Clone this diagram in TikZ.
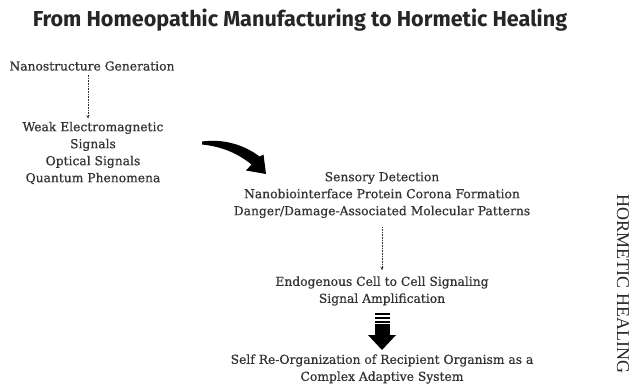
\documentclass[tikz,border=0pt]{standalone}
\usepackage{fontspec}
\setmainfont{DejaVu Serif}
\newfontfamily\bodyfont{DejaVu Serif}[FakeBold=0.6]
\newfontfamily\titlefont{Fira Sans}
\newfontfamily\sidefont{Liberation Serif}
\usetikzlibrary{arrows.meta}
\begin{document}
\begin{tikzpicture}[x=1pt,y=-1pt,
  txt/.style={align=center,inner sep=0pt,font=\bodyfont\fontsize{12.3}{17}\selectfont,text=black!80},
  dotarrow/.style={densely dotted,black!80,line width=0.6pt,-{Stealth[length=3.5pt,width=3pt]}}]
\useasboundingbox[fill=white] (0,0) rectangle (634,386);
\node[font=\titlefont\bfseries\fontsize{21.6}{24}\selectfont,text=black!85] (title) at (300,20) {From Homeopathic Manufacturing to Hormetic Healing};
\node[txt] (nano) at (92,66) {Nanostructure Generation};
\node[txt] (weak) at (93,153) {Weak Electromagnetic\\Signals\\Optical Signals\\Quantum Phenomena};
\node[txt] (sens) at (382,195) {Sensory Detection\\Nanobiointerface Protein Corona Formation\\Danger/Damage-Associated Molecular Patterns};
\node[txt] (endo) at (382,291) {Endogenous Cell to Cell Signaling\\Signal Amplification};
\node[txt] (self) at (382,369) {Self Re-Organization of Recipient Organism as a\\Complex Adaptive System};
\node[font=\sidefont\fontsize{18}{20}\selectfont,text=black!85,rotate=-90] (side) at (623,284) {HORMETIC HEALING};
\draw[dotarrow,shorten <=4pt,shorten >=3pt] ([xshift=-4pt]nano.south) -- ([xshift=-5pt]weak.north);
\draw[dotarrow,shorten <=9pt,shorten >=6pt] (sens.south) -- (endo.north);
% curved arrow
\fill[black] (202,141.5) .. controls (225,138.5) and (245,145.5) .. (259.5,156.5)
  -- (263.5,154.5) -- (266,174) -- (246,170.5) -- (251.5,164.5)
  .. controls (238,153.5) and (222,146.5) .. (202,144.5) -- cycle;
% block arrow
\fill[black] (375,313) rectangle (390,315.2);
\fill[black] (375,316.8) rectangle (390,319);
\fill[black] (375,320.6) rectangle (390,322.8);
\fill[black] (375,324.4) rectangle (390,335);
\fill[black] (368,335) -- (396,335) -- (382,350) -- cycle;
\end{tikzpicture}
\end{document}
